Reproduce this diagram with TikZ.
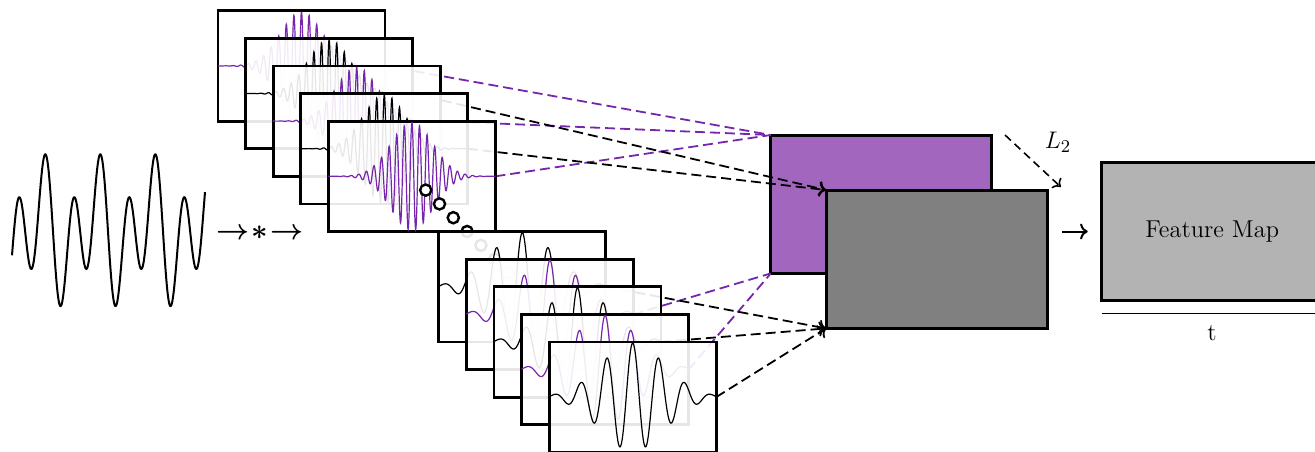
\documentclass[tikz,border=0pt]{standalone}
\usetikzlibrary{arrows.meta}
\definecolor{wpurple}{RGB}{118,38,172}
\definecolor{boxpurple}{RGB}{163,102,191}
\definecolor{boxgray}{RGB}{128,128,128}
\definecolor{fmgray}{RGB}{179,179,179}
\pgfdeclarelayer{boxes}
\pgfdeclarelayer{links}
\pgfsetlayers{boxes,links,main}
\begin{document}
\begin{tikzpicture}[x=0.5pt,y=-0.5pt,
  frame/.style={rectangle, draw=black, line width=1.4pt, fill=white, fill opacity=0.9, draw opacity=1,
    minimum width=83.5pt, minimum height=55.2pt, inner sep=0pt, outer sep=0pt},
  bigbox/.style={rectangle, draw=black, line width=1.5pt, minimum width=110.5pt, minimum height=69.2pt,
    inner sep=0pt, outer sep=0pt},
  wv/.style={line width=0.6pt},
  sig/.style={line width=1pt, line join=round},
  plink/.style={draw=wpurple, line width=0.9pt, dash pattern=on 5pt off 2.5pt},
  blink/.style={draw=black, line width=0.9pt, dash pattern=on 5pt off 2.5pt, ->},
  l2link/.style={draw=black, line width=0.8pt, dash pattern=on 4pt off 2.5pt, ->},
  arr/.style={draw=black, line width=1pt, ->},
  dotc/.style={circle, draw=black, line width=1.2pt, fill=white, minimum size=5.6pt, inner sep=0pt},
  lbl/.style={font=\fontsize{12.2}{14}\selectfont}
]
\useasboundingbox (0,0) rectangle (1315,451);

% boxes
\begin{pgfonlayer}{boxes}
\node[bigbox, fill=boxpurple] (pbox) at (881.3,204.2) {};
\node[bigbox, fill=boxgray] (gbox) at (936.5,259.2) {};
\end{pgfonlayer}

% input signal
\draw[sig] plot[domain=12:205, samples=400] (\x, {231.5 - 55*cos(13.0909*(\x-46)) - 28.5*cos(6.54545*(\x-39.75))});
\node[font=\fontsize{13.3}{16}\selectfont\boldmath, inner sep=0pt] (conv) at (260,233) {$\rightarrow\mkern-4mu*\mkern-4mu\rightarrow$};

% top stack of wavelet frames
\foreach \k/\c in {0/wpurple,1/black,2/wpurple,3/black,4/wpurple}{
  \pgfmathsetmacro\cx{301.5+27.6*\k}
  \pgfmathsetmacro\cy{65.9+27.6*\k}
  \node[frame] (f\k) at (\cx,\cy) {};
  \draw[wv,\c] plot[domain=-83.5:83.5, samples=600] ({\cx+\x},{\cy-54*exp(-\x*\x/882)*cos(47.3684*\x)});
}

% dots
\foreach \j [count=\n] in {4.5,5,5.5,6,6.5,7,7.5}{
  \node[dotc] (dot\n) at (301.5+27.6*\j, 65.9+27.6*\j) {};
}

% bottom stack of wavelet frames
\foreach \k/\c in {8/black,9/wpurple,10/black,11/wpurple,12/black}{
  \pgfmathsetmacro\cx{301.5+27.6*\k}
  \pgfmathsetmacro\cy{65.9+27.6*\k}
  \node[frame] (f\k) at (\cx,\cy) {};
  \draw[wv,\c] plot[domain=-83.5:83.5, samples=300] ({\cx+\x},{\cy-54*exp(-\x*\x/2048)*cos(13.8462*\x)});
}

% links
\begin{pgfonlayer}{links}
\foreach \k in {0,2,4} \draw[plink] (f\k.east) -- (pbox.north west);
\foreach \k in {1,3} \draw[blink] (f\k.east) -- (gbox.north west);
\foreach \k in {9,11} \draw[plink] (f\k.east) -- (pbox.south west);
\foreach \k in {8,10,12} \draw[blink] (f\k.east) -- (gbox.south west);
\end{pgfonlayer}

% L2
\draw[l2link] ([xshift=6.6pt]pbox.north east) -- ([xshift=6.9pt,yshift=1.5pt]gbox.north east);
\node[lbl] (l2) at (1058,142) {$L_2$};

% feature map
\node[bigbox, fill=fmgray, lbl] (fmap) at (1212.2,231.5) {Feature Map};
\draw[arr, shorten <=7.5pt, shorten >=7pt] (gbox.east |- fmap.west) -- (fmap.west);
\draw[line width=0.7pt] ([yshift=-6.5pt]fmap.south west) -- ([yshift=-6.5pt]fmap.south east);
\node[lbl] (t) at (1212,333) {t};
\end{tikzpicture}
\end{document}
